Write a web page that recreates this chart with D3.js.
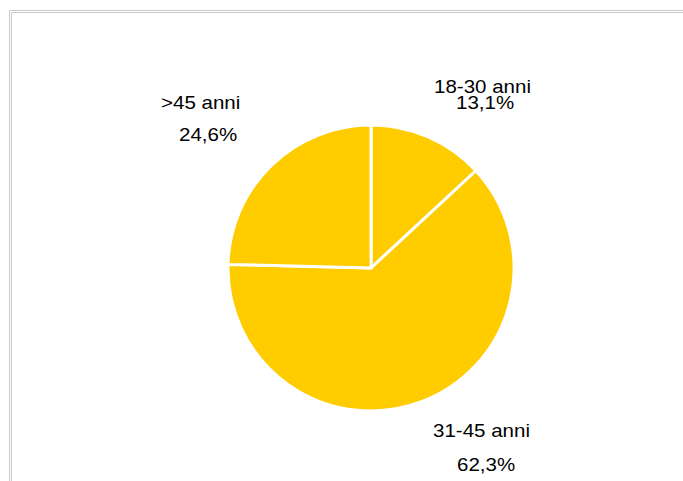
<!DOCTYPE html>
<html>
<head>
<meta charset="utf-8">
<script src="https://cdn.jsdelivr.net/npm/d3@7"></script>
<style>
  body { margin: 0; background: #ffffff; }
  svg { display: block; }
</style>
</head>
<body>
<div id="chart"></div>
<script>
// age groups and their shares (%)
var categories = ["18-30 anni", "31-45 anni", ">45 anni"];
var values = [13.1, 62.3, 24.6];
var valueLabels = ["13,1%", "62,3%", "24,6%"];

const W = 683, H = 481;
const cx = 371, cy = 268, radius = 143;
const yellow = "#ffcc00";
const frame = "#c8c8c8";

// label offsets from the pie centre, one per slice: [name x, name y, value x, value y]
const labelPos = [
  [63, -175, 85, -159],
  [62, 169, 86, 203],
  [-210, -159, -192, -127]
];

var svg = d3.select("#chart").append("svg")
  .attr("width", W)
  .attr("height", H);

// double frame at top and left
[[9.5, 10.5], [11.5, 12.5]].forEach(function(p) {
  svg.append("line")
    .attr("x1", p[0]).attr("y1", p[1]).attr("x2", W).attr("y2", p[1])
    .attr("stroke", frame).attr("stroke-width", 1);
  svg.append("line")
    .attr("x1", p[0]).attr("y1", p[1]).attr("x2", p[0]).attr("y2", H)
    .attr("stroke", frame).attr("stroke-width", 1);
});

var pie = d3.pie().sort(null).value(function(d) { return d; });
var arc = d3.arc().innerRadius(0).outerRadius(radius);

var g = svg.append("g")
  .attr("transform", "translate(" + cx + "," + cy + ")");

g.selectAll("path")
  .data(pie(values))
  .enter()
  .append("path")
  .attr("d", arc)
  .attr("fill", yellow)
  .attr("stroke", "#ffffff")
  .attr("stroke-width", 3)
  .attr("stroke-linejoin", "miter");

function addText(x, y, txt) {
  g.append("text")
    .attr("transform", "translate(" + x + "," + y + ") scale(1.14,1)")
    .attr("font-family", "Arial, 'Liberation Sans', sans-serif")
    .attr("font-size", "18px")
    .attr("fill", "#000000")
    .text(txt);
}

categories.forEach(function(c, i) {
  var p = labelPos[i];
  addText(p[0], p[1], c);
  addText(p[2], p[3], valueLabels[i]);
});
</script>
</body>
</html>
